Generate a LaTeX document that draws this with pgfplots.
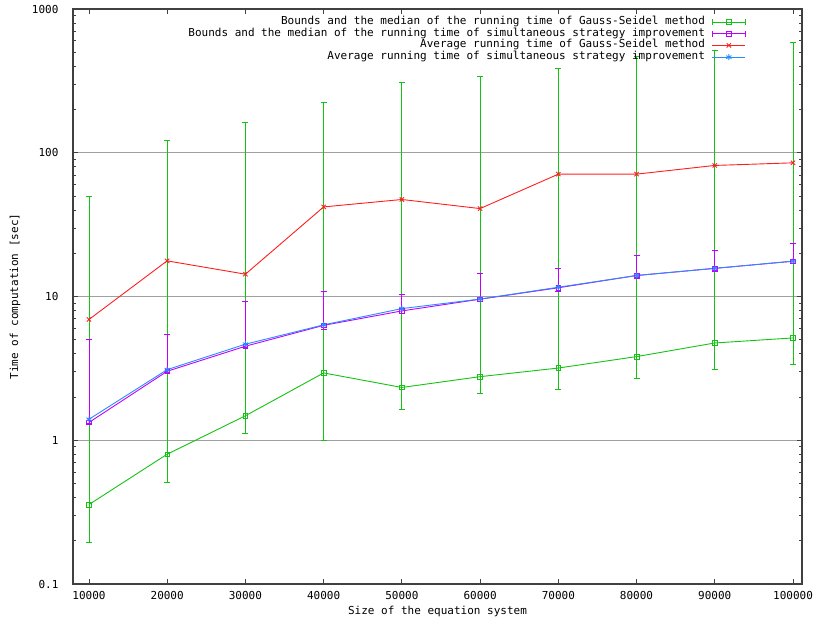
\documentclass[border=0pt]{standalone}
\usepackage{pgfplots}
\pgfplotsset{compat=1.18}
\usepackage{pgfplotstable}
\usepackage{fontspec}
\setmainfont{DejaVu Sans Mono}
\definecolor{gpgreen}{RGB}{20,195,20}
\definecolor{gpmag}{RGB}{192,0,255}
\definecolor{gpred}{RGB}{255,30,30}
\definecolor{gpblue}{RGB}{40,140,255}
\definecolor{gpgrid}{RGB}{160,160,160}

\pgfplotstableread{
x      y      lo     hi
10000  0.357  0.194  50
20000  0.80   0.51   122
30000  1.48   1.11   162
40000  2.94   1.00   224
50000  2.33   1.64   308
60000  2.77   2.13   340
70000  3.18   2.25   386
80000  3.82   2.70   470
90000  4.75   3.13   512
100000 5.15   3.36   586
}\gsbounds

\pgfplotstableread{
x      y      lo     hi
10000  1.33   1.30   5.0
20000  3.02   2.95   5.45
30000  4.51   4.40   9.27
40000  6.30   5.90   10.9
50000  7.94   7.69   10.4
60000  9.58   9.30   14.5
70000  11.5   10.8   15.8
80000  14.0   13.4   19.3
90000  15.7   15.0   20.9
100000 17.6   17.0   23.3
}\ssibounds

\pgfplotstableread{
x      y
10000  6.92
20000  17.7
30000  14.3
40000  42.0
50000  47.3
60000  40.9
70000  71.0
80000  71.0
90000  81.6
100000 85.1
}\gsavg

\pgfplotstableread{
x      y
10000  1.40
20000  3.10
30000  4.66
40000  6.35
50000  8.24
60000  9.60
70000  11.6
80000  14.0
90000  15.7
100000 17.6
}\ssiavg

\pgfplotsset{
  errlegend/.style={legend image code/.code={
    \path (0pt,0pt);
    \draw[mark repeat=2, mark phase=2, ##1] plot coordinates {(7pt,0pt) (23.5pt,0pt) (40pt,0pt)};
    \draw[##1] (7pt,-3pt) -- (7pt,3pt) (40pt,-3pt) -- (40pt,3pt);
  }},
  linelegend/.style={legend image code/.code={
    \path (0pt,0pt);
    \draw[mark repeat=2, mark phase=2, ##1] plot coordinates {(7pt,0pt) (23.5pt,0pt) (40pt,0pt)};
  }},
}

\begin{document}
\begin{tikzpicture}
\begin{axis}[
  name=ax,
  scale only axis,
  width=729pt, height=575pt,
  ymode=log,
  xmin=7960, xmax=101150,
  ymin=0.1, ymax=1000,
  font=\fontsize{11}{12}\selectfont,
  axis line style={draw=black!75, line width=1.2pt},
  tick align=inside,
  tick pos=both,
  major tick length=5pt,
  minor tick length=3pt,
  tick style={black!75, line width=0.8pt},
  scaled x ticks=false,
  xtick={10000,20000,30000,40000,50000,60000,70000,80000,90000,100000},
  xticklabels={10000,20000,30000,40000,50000,60000,70000,80000,90000,100000},
  ytick={0.1,1,10,100,1000},
  yticklabels={0.1,1,10,100,1000},
  yticklabel style={xshift=-11pt},
  xticklabel style={yshift=-4pt},
  ymajorgrids,
  major grid style={gpgrid, line width=0.8pt},
  xlabel={Size of the equation system},
  ylabel={Time of computation [sec]},
  xlabel style={at={(0.5,0)}, anchor=center, yshift=-27pt},
  ylabel style={at={(0,0.5)}, anchor=center, yshift=58pt},
  legend plot pos=right,
  legend cell align=right,
  legend style={draw=none, fill=none, inner sep=0pt, outer sep=0pt,
    at={(rel axis cs:0.923,0.9875)}, anchor=north east,
    row sep=0pt,
    nodes={inner sep=0pt, text height=8.2pt, text depth=3.5pt}},
  every axis plot/.append style={line width=0.9pt},
]
\addplot[gpgreen, errlegend, mark=square, mark size=2.3pt, mark options={solid, line width=0.7pt},
  error bars/.cd, y dir=both, y explicit,
  error bar style={draw=gpgreen, line width=0.9pt},
  error mark options={draw=gpgreen, rotate=90, mark size=3pt, line width=0.8pt}]
  table[x=x, y=y, y error plus expr=\thisrow{hi}-\thisrow{y}, y error minus expr=\thisrow{y}-\thisrow{lo}] {\gsbounds};
\addlegendentry{Bounds and the median of the running time of Gauss-Seidel method}
\addplot[gpmag, errlegend, mark=square, mark size=2.3pt, mark options={solid, line width=0.7pt},
  error bars/.cd, y dir=both, y explicit,
  error bar style={draw=gpmag, line width=0.9pt},
  error mark options={draw=gpmag, rotate=90, mark size=3pt, line width=0.8pt}]
  table[x=x, y=y, y error plus expr=\thisrow{hi}-\thisrow{y}, y error minus expr=\thisrow{y}-\thisrow{lo}] {\ssibounds};
\addlegendentry{Bounds and the median of the running time of simultaneous strategy improvement}
\addplot[gpred, linelegend, mark=x, mark size=3pt] table[x=x, y=y] {\gsavg};
\addlegendentry{Average running time of Gauss-Seidel method}
\addplot[gpblue, linelegend, mark=asterisk, mark size=3pt] table[x=x, y=y] {\ssiavg};
\addlegendentry{Average running time of simultaneous strategy improvement}
\end{axis}
\pgfresetboundingbox
\path ([shift={(-73pt,-41pt)}]ax.south west) rectangle ([shift={(17pt,9pt)}]ax.north east);
\end{tikzpicture}
\end{document}
